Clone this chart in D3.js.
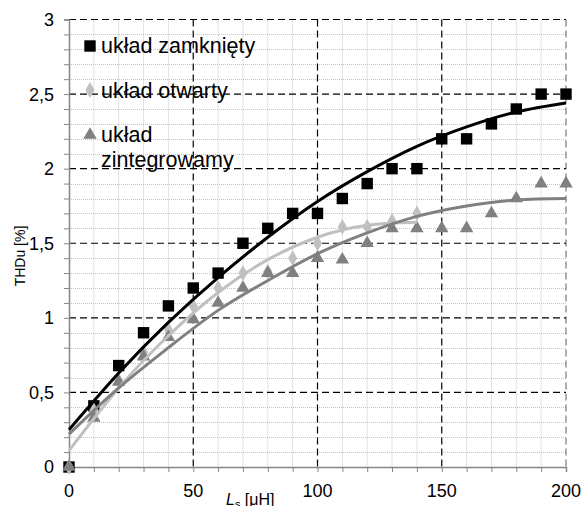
<!DOCTYPE html>
<html>
<head>
<meta charset="utf-8">
<script src="https://cdn.jsdelivr.net/npm/d3@7"></script>
<style>
  body { margin: 0; background: #fff; }
  text { font-family: "Liberation Sans", Arial, sans-serif; }
</style>
</head>
<body>
<div id="chart"></div>
<script>
// measured points, x = Ls [uH]
var xsFull = [0, 10, 20, 30, 40, 50, 60, 70, 80, 90, 100, 110, 120, 130, 140, 150, 160, 170, 180, 190, 200];
var xsOpen = [0, 10, 20, 30, 40, 50, 60, 70, 80, 90, 100, 110, 120, 130, 140];
var closedVals = [0, 0.41, 0.68, 0.9, 1.08, 1.2, 1.3, 1.5, 1.6, 1.7, 1.7, 1.8, 1.9, 2.0, 2.0, 2.2, 2.2, 2.3, 2.4, 2.5, 2.5];
var openVals = [0, 0.38, 0.58, 0.77, 0.92, 1.08, 1.2, 1.3, 1.31, 1.4, 1.5, 1.61, 1.61, 1.65, 1.7];
var integVals = [0, 0.33, 0.57, 0.74, 0.87, 0.99, 1.1, 1.2, 1.3, 1.3, 1.4, 1.39, 1.5, 1.6, 1.6, 1.6, 1.6, 1.7, 1.8, 1.9, 1.9];

// trend lines
var trendX = [0, 20, 40, 60, 80, 100, 120, 140, 160, 180, 200];
var trendXOpen = [0, 20, 40, 60, 80, 100, 120, 140];
var closedTrend = [0.25, 0.63, 0.97, 1.27, 1.54, 1.78, 1.98, 2.15, 2.28, 2.38, 2.44];
var openTrend = [0.11, 0.53, 0.88, 1.17, 1.39, 1.54, 1.62, 1.64];
var integTrend = [0.22, 0.53, 0.8, 1.05, 1.25, 1.43, 1.57, 1.68, 1.75, 1.79, 1.8];

var xTicks = [0, 50, 100, 150, 200];
var yTicks = [0, 0.5, 1, 1.5, 2, 2.5, 3];
var legendNames = ["układ zamknięty", "układ otwarty", "układ zintegrowamy"];

var W = 584, H = 506;
var margin = {top: 19.5, right: 18, bottom: 39, left: 69};

var svg = d3.select("#chart").append("svg")
    .attr("width", W)
    .attr("height", H);

svg.append("rect").attr("width", W).attr("height", H).attr("fill", "#fff");

var x = d3.scaleLinear().domain([0, 200]).range([margin.left, W - margin.right]);
var y = d3.scaleLinear().domain([0, 3]).range([H - margin.bottom, margin.top]);

// minor grid (dotted)
var minorX = d3.range(10, 200, 10).filter(function(d) { return d % 50 != 0; });
var minorY = d3.range(1, 30).map(function(d) { return d / 10; }).filter(function(d, i) { return (i + 1) % 5 != 0; });

var grid = svg.append("g");
grid.selectAll(".mx").data(minorX).enter().append("line")
    .attr("x1", function(d) { return x(d); }).attr("x2", function(d) { return x(d); })
    .attr("y1", y(3)).attr("y2", y(0))
    .attr("stroke", "#c4c4c4").attr("stroke-width", 1).attr("stroke-dasharray", "1,1");
grid.selectAll(".my").data(minorY).enter().append("line")
    .attr("x1", x(0)).attr("x2", x(200))
    .attr("y1", function(d) { return Math.round(y(d)) + 0.5; }).attr("y2", function(d) { return Math.round(y(d)) + 0.5; })
    .attr("stroke", "#c4c4c4").attr("stroke-width", 1).attr("stroke-dasharray", "1,1");

// major grid (dashed)
grid.selectAll(".Mx").data(xTicks.slice(1)).enter().append("line")
    .attr("x1", function(d) { return x(d); }).attr("x2", function(d) { return x(d); })
    .attr("y1", y(3)).attr("y2", y(0))
    .attr("stroke", function(d) { return d == 200 ? "#777" : "#000"; })
    .attr("stroke-width", 1.2).attr("stroke-dasharray", "7,4");
grid.selectAll(".My").data(yTicks.slice(1)).enter().append("line")
    .attr("x1", x(0)).attr("x2", x(200))
    .attr("y1", function(d) { return y(d); }).attr("y2", function(d) { return y(d); })
    .attr("stroke", "#000").attr("stroke-width", 1.2).attr("stroke-dasharray", "7,4");

// axes
var xAxis = d3.axisBottom(x).tickValues(d3.range(0, 201, 10)).tickSize(5).tickFormat("");
var yAxis = d3.axisLeft(y).tickValues(d3.range(0, 31).map(function(d) { return d / 10; })).tickSize(5).tickFormat("");

var gx = svg.append("g").attr("transform", "translate(0," + y(0) + ")").call(xAxis);
var gy = svg.append("g").attr("transform", "translate(" + x(0) + ",0)").call(yAxis);
[gx, gy].forEach(function(g) {
    g.select(".domain").attr("stroke", "#868686").attr("stroke-width", 1.5);
    g.selectAll(".tick line").attr("stroke", "#868686");
});

svg.append("g").selectAll("text").data(xTicks).enter().append("text")
    .attr("x", function(d) { return x(d); })
    .attr("y", y(0) + 30)
    .attr("text-anchor", "middle")
    .style("font-size", "18px")
    .text(function(d) { return d; });

svg.append("g").selectAll("text").data(yTicks).enter().append("text")
    .attr("x", 54)
    .attr("y", function(d) { return y(d); })
    .attr("dy", "0.36em")
    .attr("text-anchor", "end")
    .style("font-size", "18px")
    .text(function(d) { return String(d).replace(".", ","); });

// axis titles
var xt = svg.append("text")
    .attr("x", 226)
    .attr("y", 505)
    .style("font-size", "16px");
xt.append("tspan").style("font-style", "italic").text("L");
xt.append("tspan").attr("dy", 3).style("font-size", "11px").text("s");
xt.append("tspan").attr("dy", -3).text(" [μH]");

svg.append("text")
    .attr("transform", "translate(25,256) rotate(-90)")
    .attr("text-anchor", "middle")
    .style("font-size", "14px")
    .text("THDu [%]");

// markers
function pairs(xs, vs) {
    return xs.map(function(d, i) { return [d, vs[i]]; });
}

var sqSym = d3.symbol().type(d3.symbolSquare).size(130);
var diSym = d3.symbol().type(d3.symbolDiamond).size(72);
var trSym = d3.symbol().type(d3.symbolTriangle).size(78);

var series = [
    {data: pairs(xsFull, closedVals), sym: sqSym, color: "#000"},
    {data: pairs(xsOpen, openVals), sym: diSym, color: "#c0c0c0"},
    {data: pairs(xsFull, integVals), sym: trSym, color: "#808080"}
];

series.forEach(function(s) {
    svg.append("g").selectAll("path").data(s.data).enter().append("path")
        .attr("d", s.sym)
        .attr("transform", function(d) { return "translate(" + x(d[0]) + "," + y(d[1]) + ")"; })
        .attr("fill", s.color);
});

// trend lines
var line = d3.line()
    .x(function(d) { return x(d[0]); })
    .y(function(d) { return y(d[1]); })
    .curve(d3.curveNatural);

var trends = [
    {data: pairs(trendX, closedTrend), color: "#000"},
    {data: pairs(trendXOpen, openTrend), color: "#c0c0c0"},
    {data: pairs(trendX, integTrend), color: "#808080"}
];
trends.forEach(function(t) {
    svg.append("path")
        .attr("d", line(t.data))
        .attr("fill", "none")
        .attr("stroke", t.color)
        .attr("stroke-width", 3);
});

// legend
var legY = [46, 90, 135];
var leg = svg.append("g");
[sqSym, diSym, trSym].forEach(function(sym, i) {
    leg.append("path")
        .attr("d", sym)
        .attr("transform", "translate(90," + legY[i] + ")")
        .attr("fill", series[i].color);
});
leg.append("text").attr("x", 101).attr("y", 53).style("font-size", "21.5px").text(legendNames[0]);
leg.append("text").attr("x", 101).attr("y", 98).style("font-size", "21.5px").text(legendNames[1]);
var lt = leg.append("text").attr("x", 101).attr("y", 142).style("font-size", "21.5px");
lt.append("tspan").attr("x", 101).text(legendNames[2].split(" ")[0]);
lt.append("tspan").attr("x", 101).attr("dy", 24.5).text(legendNames[2].split(" ")[1]);
</script>
</body>
</html>
